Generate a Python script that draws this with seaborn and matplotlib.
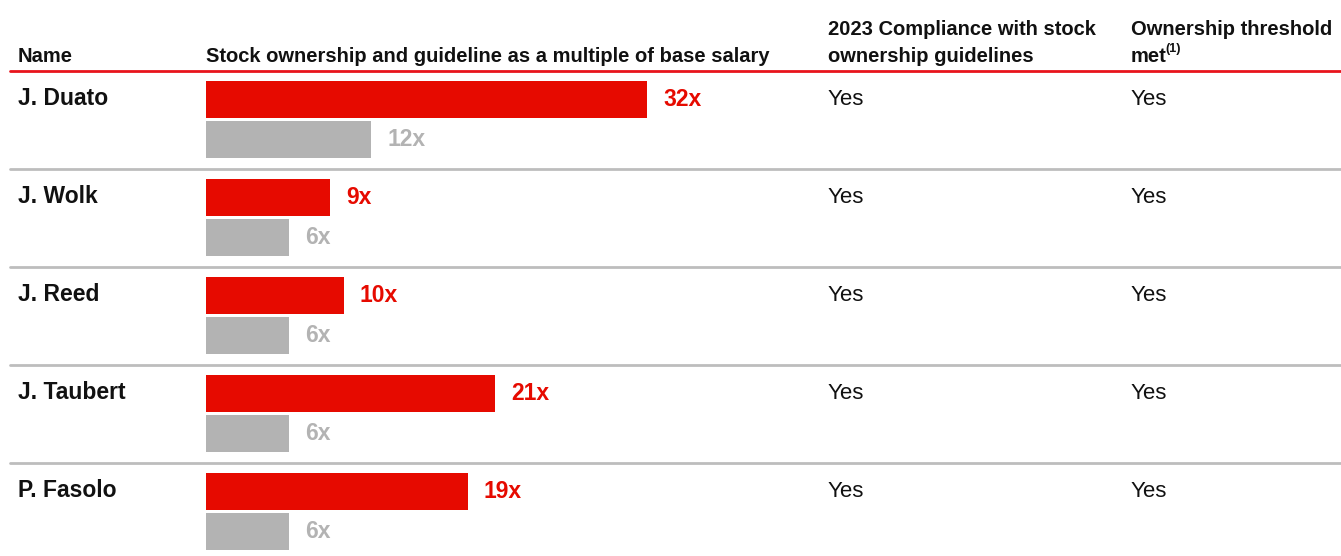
import pandas as pd
import matplotlib.pyplot as plt
import seaborn as sns
from matplotlib.transforms import blended_transform_factory

names = ["J. Duato", "J. Wolk", "J. Reed", "J. Taubert", "P. Fasolo"]
ownership = [32, 9, 10, 21, 19]
guideline = [12, 6, 6, 6, 6]
compliance = ["Yes", "Yes", "Yes", "Yes", "Yes"]
threshold_met = ["Yes", "Yes", "Yes", "Yes", "Yes"]

RED = "#E60A00"
GREY = "#B3B3B3"
LINE_GREY = "#BDBDBD"
FONT = "Liberation Sans"

sns.set_style("white")
plt.rcParams["font.family"] = [FONT, "DejaVu Sans"]

df = pd.DataFrame({
    "name": names * 2,
    "series": ["Ownership"] * len(names) + ["Guideline"] * len(names),
    "value": ownership + guideline,
})

W, H = 1341, 556
fig = plt.figure(figsize=(W / 100, H / 100), dpi=100)

# bar area: starts at x=206px, one unit ~13.78px, rows of 98px from y=70.5px
x0, unit, top, row_h = 206, 13.78, 70.5, 98
xmax = 44
ax = fig.add_axes([x0 / W, 0, xmax * unit / W, (H - top) / H])

sns.barplot(data=df, y="name", x="value", hue="series", orient="h",
            hue_order=["Ownership", "Guideline"], palette=[RED, GREY],
            saturation=1, width=0.82, gap=0.08, linewidth=0, legend=False, ax=ax)
ax.set_xlim(0, xmax)
ax.set_ylim(-0.5 + (H - top) / row_h, -0.5)
ax.set_axis_off()

for cont, col in zip(ax.containers, [RED, GREY]):
    vals = [int(b.get_width()) for b in cont]
    ax.bar_label(cont, labels=[f"{v}x" for v in vals], padding=11.5,
                 color=col, fontsize=16.5, fontweight="bold")

# header rule and row separators
lx0 = (10 - x0) / (xmax * unit)
lx1 = (W - x0) / (xmax * unit)
ax.axhline(-0.5, xmin=lx0, xmax=lx1, color="#E8141C", lw=2, clip_on=False)
for i in range(len(names) - 1):
    ax.axhline(i + 0.5, xmin=lx0, xmax=lx1, color=LINE_GREY, lw=2, clip_on=False)

# row text
tr = blended_transform_factory(fig.transFigure, ax.transData)
for i, n in enumerate(names):
    ax.text(18 / W, i - 0.15, n, transform=tr, fontsize=16.5,
            fontweight="bold", va="baseline", color="#111111")
    ax.text(828 / W, i - 0.15, compliance[i], transform=tr, fontsize=16,
            va="baseline", color="#111111")
    ax.text(1131 / W, i - 0.15, threshold_met[i], transform=tr, fontsize=16,
            va="baseline", color="#111111")

# headers
hdr = dict(fontsize=14.5, fontweight="bold", va="baseline", color="#111111")
l1, l2 = 1 - 35 / H, 1 - 62 / H
fig.text(18 / W, l2, "Name", **hdr)
fig.text(206 / W, l2, "Stock ownership and guideline as a multiple of base salary", **hdr)
fig.text(828 / W, l1, "2023 Compliance with stock", **hdr)
fig.text(828 / W, l2, "ownership guidelines", **hdr)
fig.text(1131 / W, l1, "Ownership threshold", **hdr)
fig.text(1131 / W, l2, "met", **hdr)
fig.text(1165.5 / W, 1 - 52 / H, "(1)", fontsize=9, fontweight="bold",
         va="baseline", color="#111111")

fig.savefig("out.png", dpi=100)
